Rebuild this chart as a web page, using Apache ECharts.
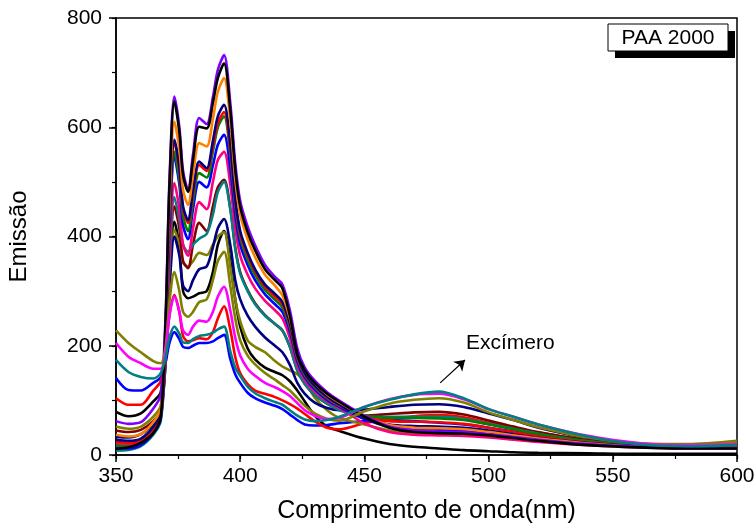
<!DOCTYPE html>
<html>
<head>
<meta charset="utf-8">
<script src="https://cdn.jsdelivr.net/npm/echarts@6/dist/echarts.min.js"></script>
<style>html,body{margin:0;padding:0;background:#fff}#c{width:754px;height:528px}</style>
</head>
<body>
<div id="c"></div>
<script>
// Wavelength grid (nm)
const wavelength = [350, 355, 360, 365, 368, 370, 371.5, 373.5, 375.5, 377, 379, 381, 383.5, 386.5, 389, 391, 393.5, 396, 398, 400, 403, 406, 410, 414, 417, 420, 423, 426, 430, 435, 440, 450, 460, 470, 480, 490, 500, 510, 520, 540, 560, 580, 600];

// Emission values per spectrum
const purple  = [62, 57, 60, 85, 110, 260, 500, 656, 600, 520, 486, 550, 617, 606, 655, 705, 732, 645, 535, 465, 418, 384, 348, 326, 312, 265, 195, 160, 136, 115, 99, 72, 52, 45, 43, 42, 38, 33, 28, 20, 15, 12, 12];
const black1  = [11, 14, 22, 40, 70, 250, 490, 647, 592, 512, 482, 540, 601, 598, 645, 690, 717, 632, 522, 455, 408, 375, 340, 320, 305, 255, 185, 155, 132, 112, 97, 70, 50, 42, 40, 39, 36, 31, 26, 18, 14, 12, 12];
const orange  = [37, 34, 38, 60, 85, 240, 460, 610, 560, 485, 458, 512, 571, 565, 615, 665, 690, 612, 505, 440, 395, 362, 330, 310, 292, 250, 190, 156, 132, 111, 96, 70, 55, 50, 49, 47, 42, 36, 30, 21, 15, 12, 12];
const navy1   = [28, 26, 30, 52, 78, 225, 430, 577, 528, 455, 430, 485, 537, 525, 575, 620, 641, 570, 470, 410, 370, 340, 312, 295, 280, 242, 183, 150, 127, 107, 92, 68, 56, 53, 52, 50, 45, 38, 31, 22, 16, 13, 12];
const red1    = [24, 22, 27, 48, 75, 220, 425, 573, 522, 450, 425, 478, 531, 520, 565, 608, 628, 560, 465, 405, 365, 336, 308, 290, 276, 238, 180, 149, 126, 106, 91, 70, 62, 61, 60, 57, 50, 42, 34, 23, 16, 13, 13];
const green   = [17, 16, 22, 44, 70, 210, 410, 555, 505, 437, 410, 465, 516, 508, 555, 600, 620, 552, 458, 398, 358, 330, 302, 284, 270, 233, 177, 146, 124, 104, 90, 72, 68, 68, 67, 64, 56, 47, 38, 25, 17, 13, 13];
const blue1   = [13, 12, 18, 40, 66, 200, 400, 546, 495, 420, 395, 450, 500, 490, 530, 568, 586, 525, 440, 385, 348, 320, 294, 276, 262, 226, 171, 142, 120, 101, 88, 66, 52, 47, 45, 44, 40, 35, 29, 20, 15, 12, 12];
const pink    = [20, 18, 24, 44, 68, 185, 365, 498, 450, 385, 365, 415, 463, 450, 500, 540, 555, 495, 415, 365, 330, 305, 282, 265, 250, 214, 164, 137, 116, 98, 86, 58, 42, 37, 36, 35, 32, 28, 24, 18, 14, 13, 14];
const maroon  = [45, 42, 46, 62, 82, 175, 340, 455, 415, 355, 342, 385, 425, 410, 455, 490, 504, 452, 380, 335, 302, 278, 256, 240, 228, 198, 155, 130, 110, 94, 83, 72, 75, 78, 79, 74, 63, 52, 42, 27, 18, 14, 13];
const teal1   = [8, 9, 16, 37, 62, 180, 345, 472, 430, 385, 372, 385, 396, 405, 440, 482, 500, 450, 378, 332, 300, 276, 255, 240, 228, 198, 155, 130, 110, 94, 82, 70, 70, 70, 70, 66, 57, 48, 39, 25, 17, 13, 12];
const navy2   = [33, 32, 38, 58, 80, 170, 300, 400, 365, 310, 300, 320, 340, 345, 380, 415, 432, 385, 320, 285, 255, 235, 215, 200, 188, 165, 132, 112, 96, 86, 82, 83, 88, 92, 93, 88, 76, 64, 50, 31, 20, 15, 14];
const black2  = [79, 71, 76, 98, 115, 200, 335, 427, 380, 300, 287, 290, 296, 300, 335, 385, 410, 355, 285, 235, 195, 175, 160, 152, 146, 135, 118, 98, 72, 52, 44, 30, 20, 15, 12, 9, 7, 5, 4, 3, 2, 2, 2];
const olive1  = [52, 48, 52, 70, 90, 185, 320, 412, 385, 352, 345, 355, 370, 366, 385, 400, 408, 345, 285, 245, 210, 198, 188, 172, 162, 155, 148, 135, 105, 82, 68, 56, 45, 40, 38, 37, 35, 31, 28, 24, 20, 18, 22];
const olive2  = [228, 205, 188, 172, 168, 200, 280, 335, 300, 262, 253, 262, 280, 285, 320, 355, 372, 310, 250, 210, 182, 166, 150, 138, 128, 118, 104, 90, 76, 66, 63, 80, 94, 101, 104, 96, 78, 64, 51, 32, 22, 20, 26];
const magenta = [205, 180, 168, 158, 158, 190, 255, 290, 262, 228, 220, 235, 246, 244, 262, 290, 308, 265, 215, 182, 158, 145, 132, 124, 117, 108, 95, 82, 72, 66, 68, 88, 102, 110, 112, 102, 84, 70, 56, 35, 22, 18, 20];
const red2    = [104, 92, 92, 118, 135, 190, 255, 293, 262, 218, 208, 210, 214, 212, 225, 250, 272, 230, 180, 150, 130, 118, 112, 106, 100, 93, 85, 75, 62, 50, 47, 58, 66, 71, 73, 69, 59, 50, 41, 27, 18, 14, 14];
const teal2   = [174, 152, 143, 140, 150, 180, 215, 235, 222, 206, 205, 212, 218, 220, 224, 230, 235, 190, 160, 145, 125, 113, 104, 97, 92, 82, 72, 65, 62, 64, 70, 88, 101, 111, 116, 104, 84, 70, 56, 34, 20, 16, 18];
const blue2   = [141, 119, 118, 132, 142, 170, 205, 225, 212, 198, 196, 200, 205, 205, 208, 214, 220, 176, 148, 132, 114, 104, 96, 90, 84, 74, 64, 56, 54, 55, 58, 62, 64, 62, 59, 56, 50, 43, 36, 24, 17, 13, 13];

const xTicks = [350, 400, 450, 500, 550, 600];
const yTicks = [0, 200, 400, 600, 800];

const seriesList = [
  ['black2', black2, '#000000'],
  ['blue2', blue2, '#0000ff'],
  ['red2', red2, '#ff0000'],
  ['olive1', olive1, '#808000'],
  ['navy2', navy2, '#000080'],
  ['maroon', maroon, '#800000'],
  ['teal1', teal1, '#008080'],
  ['pink', pink, '#ff0080'],
  ['blue1', blue1, '#0000ff'],
  ['green', green, '#008000'],
  ['red1', red1, '#ff0000'],
  ['navy1', navy1, '#000080'],
  ['orange', orange, '#ff8000'],
  ['purple', purple, '#8000ff'],
  ['black1', black1, '#000000'],
  ['olive2', olive2, '#808000'],
  ['magenta', magenta, '#ff00ff'],
  ['teal2', teal2, '#008080']
];

const arrowFrom = [480.5, 132];
const arrowTo = [490.5, 174];

const FONT = 'Liberation Sans, Arial, sans-serif';

const series = seriesList.map(([name, vals, color], i) => {
  const s = {
    name: name,
    type: 'line',
    xAxisIndex: 0,
    yAxisIndex: 0,
    data: wavelength.map((w, k) => [w, vals[k]]),
    showSymbol: false,
    smooth: 0.3,
    lineStyle: { color: color, width: 2.6 },
    itemStyle: { color: color },
    emphasis: { disabled: true },
    silent: true,
    z: 2 + i * 0.01
  };
  if (name === 'teal2') {
    s.markLine = {
      silent: true,
      symbol: ['none', 'arrow'],
      symbolSize: 10,
      label: { show: false },
      lineStyle: { color: '#000', width: 1.2, type: 'solid' },
      data: [[{ coord: arrowFrom }, { coord: arrowTo }]]
    };
  }
  return s;
});

const minorAxisCommon = {
  type: 'value',
  axisLine: { show: false },
  axisTick: { show: true, inside: false, length: 4, lineStyle: { color: '#000', width: 1.2 } },
  axisLabel: { show: false },
  splitLine: { show: false }
};

const chart = echarts.init(document.getElementById('c'), null, { renderer: 'canvas' });
chart.setOption({
  animation: false,
  backgroundColor: '#fff',
  grid: { left: 116, right: 17, top: 18, bottom: 73, outerBoundsMode: 'none', containLabel: false, show: true, borderColor: '#000', borderWidth: 1.5, backgroundColor: 'transparent' },
  xAxis: [{
    type: 'value', position: 'bottom', min: xTicks[0], max: xTicks[xTicks.length - 1], interval: 50,
    name: 'Comprimento de onda(nm)', nameLocation: 'middle', nameGap: 44,
    nameTextStyle: { fontSize: 25, color: '#000', fontFamily: FONT },
    axisLine: { lineStyle: { color: '#000', width: 1.5 } },
    axisTick: { inside: false, length: 7, lineStyle: { color: '#000', width: 1.5 } },
    splitLine: { show: false },
    axisLabel: { fontSize: 21, color: '#000', fontFamily: FONT, margin: 11 }
  }, Object.assign({ position: 'bottom', min: xTicks[0], max: xTicks[xTicks.length - 1], interval: 25 }, minorAxisCommon)],
  yAxis: [{
    type: 'value', position: 'left', min: yTicks[0], max: yTicks[yTicks.length - 1], interval: 200,
    name: 'Emissão', nameLocation: 'middle', nameGap: 85, nameRotate: 90,
    nameTextStyle: { fontSize: 24, color: '#000', fontFamily: FONT },
    axisLine: { show: true, lineStyle: { color: '#000', width: 1.5 } },
    axisTick: { show: true, inside: false, length: 7, lineStyle: { color: '#000', width: 1.5 } },
    splitLine: { show: false },
    axisLabel: { fontSize: 21, color: '#000', fontFamily: FONT, margin: 14 }
  }, Object.assign({ position: 'left', min: yTicks[0], max: yTicks[yTicks.length - 1], interval: 100 }, minorAxisCommon)],
  graphic: [
    { type: 'rect', shape: { x: 615, y: 31, width: 120, height: 27 }, style: { fill: '#000' }, z: 100 },
    { type: 'rect', shape: { x: 608, y: 24, width: 120, height: 27 }, style: { fill: '#fff', stroke: '#000', lineWidth: 1 }, z: 101 },
    { type: 'text', x: 668, y: 38, style: { text: 'PAA 2000', font: '21px ' + FONT, fill: '#000', align: 'center', verticalAlign: 'middle' }, z: 102 },
    { type: 'text', x: 466, y: 343, style: { text: 'Excímero', font: '21px ' + FONT, fill: '#000', align: 'left', verticalAlign: 'middle' }, z: 102 }
  ],
  series: series
});
</script>
</body>
</html>
